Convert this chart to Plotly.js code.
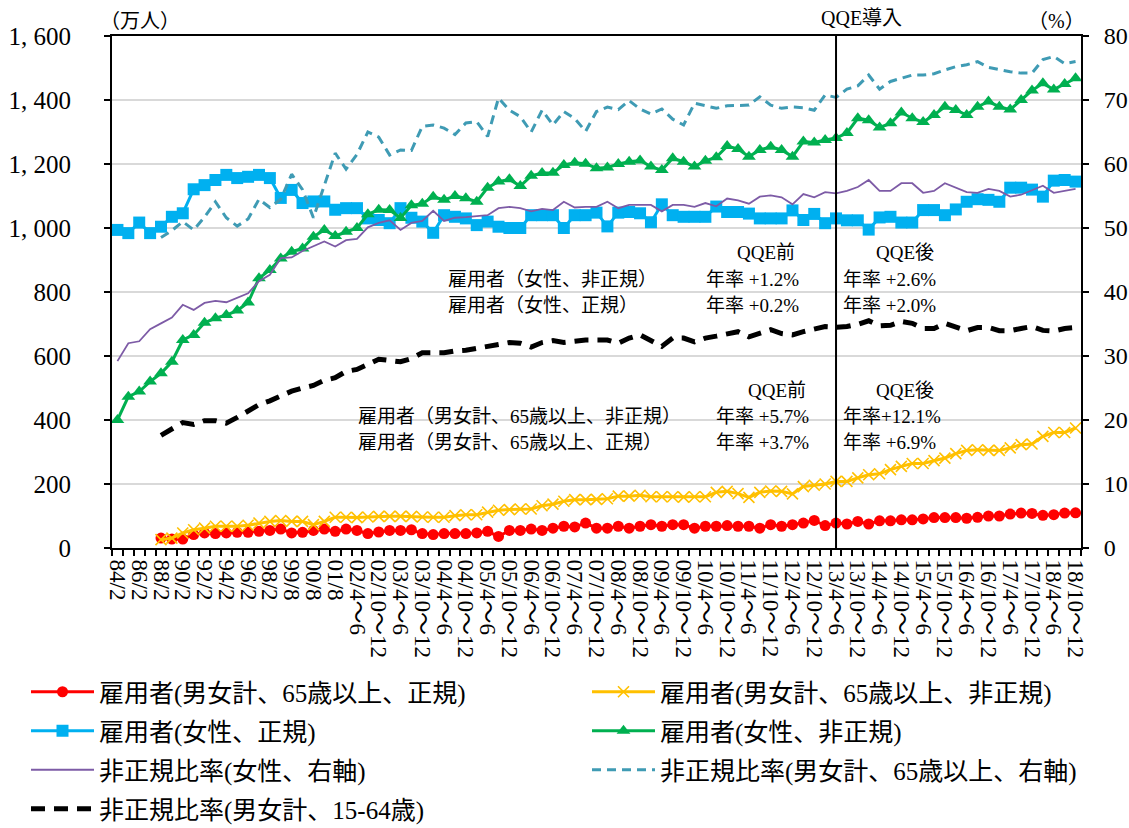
<!DOCTYPE html>
<html>
<head>
<meta charset="utf-8">
<script src="https://cdn.plot.ly/plotly-3.0.1.min.js"></script>
<style>html,body{margin:0;padding:0;background:#fff;}#chart{width:1129px;height:828px;}</style>
</head>
<body>
<div id="chart"></div>
<script>
const categories = [
  '84/2','85/2','86/2','87/2','88/2','89/2','90/2','91/2','92/2','93/2','94/2','95/2','96/2','97/2','98/2',
  '99/2','99/8','00/2','00/8','01/2','01/8',
  '02/1～3','02/4～6','02/7～9','02/10～12',
  '03/1～3','03/4～6','03/7～9','03/10～12',
  '04/1～3','04/4～6','04/7～9','04/10～12',
  '05/1～3','05/4～6','05/7～9','05/10～12',
  '06/1～3','06/4～6','06/7～9','06/10～12',
  '07/1～3','07/4～6','07/7～9','07/10～12',
  '08/1～3','08/4～6','08/7～9','08/10～12',
  '09/1～3','09/4～6','09/7～9','09/10～12',
  '10/1～3','10/4～6','10/7～9','10/10～12',
  '11/1～3','11/4～6','11/7～9','11/10～12',
  '12/1～3','12/4～6','12/7～9','12/10～12',
  '13/1～3','13/4～6','13/7～9','13/10～12',
  '14/1～3','14/4～6','14/7～9','14/10～12',
  '15/1～3','15/4～6','15/7～9','15/10～12',
  '16/1～3','16/4～6','16/7～9','16/10～12',
  '17/1～3','17/4～6','17/7～9','17/10～12',
  '18/1～3','18/4～6','18/7～9','18/10～12'
];

const tickLabels = [
  '84/2','86/2','88/2','90/2','92/2','94/2','96/2','98/2','99/8','00/8','01/8',
  '02/4～6','02/10～12','03/4～6','03/10～12','04/4～6','04/10～12','05/4～6','05/10～12',
  '06/4～6','06/10～12','07/4～6','07/10～12','08/4～6','08/10～12','09/4～6','09/10～12',
  '10/4～6','10/10～12','11/4～6','11/10～12','12/4～6','12/10～12','13/4～6','13/10～12',
  '14/4～6','14/10～12','15/4～6','15/10～12','16/4～6','16/10～12','17/4～6','17/10～12',
  '18/4～6','18/10～12'
];

const leftTickValues = [0,200,400,600,800,1000,1200,1400,1600];
const leftTickLabels = ['0','200','400','600','800','1, 000','1, 200','1, 400','1, 600'];
const qqeCategory = '13/4～6';

// 雇用者(男女計、65歳以上、正規) 万人
const elderRegular = [null,null,null,null,
  31,28,28,42,47,45,47,49,49,52,55,59,47,49,55,59,52,59,55,45,50,55,55,57,45,42,45,45,45,47,52,36,55,55,59,55,
  62,68,66,78,62,62,68,62,68,73,68,73,73,62,68,68,70,68,68,62,73,68,73,78,86,70,78,75,83,75,85,85,88,88,91,95,
  95,95,93,96,100,100,106,109,108,102,104,109,110];
// 雇用者(男女計、65歳以上、非正規) 万人
const elderNonRegular = [null,null,null,null,
  26,31,47,57,62,68,68,68,71,78,83,86,83,83,73,83,96,96,95,97,99,99,99,99,97,96,96,101,104,104,112,118,120,122,122,132,
  137,146,151,151,152,154,162,162,165,160,160,160,159,160,160,174,177,170,158,174,178,177,169,192,196,200,208,208,219,229,232,245,255,264,264,273,
  281,295,305,307,305,305,313,323,325,349,361,361,375];
// 雇用者(女性、正規) 万人
const femaleRegular = [
  994,984,1017,984,1004,1035,1046,1121,1134,1150,1166,1156,1160,1166,1156,1094,1119,1078,1083,1083,1057,1062,1062,1030,1025,1015,1062,1032,1020,985,
  1040,1035,1030,1009,1020,1004,1000,1000,1040,1040,1040,1000,1040,1040,1048,1005,1048,1050,1046,1018,1074,1040,1035,1035,1035,1067,1050,1050,1045,1030,
  1030,1030,1055,1025,1044,1015,1030,1024,1024,995,1033,1035,1017,1017,1056,1056,1040,1058,1082,1090,1088,1082,1126,1126,1120,1098,1148,1150,1145];
// 雇用者(女性、非正規) 万人
const femaleNonRegular = [
  400,473,489,520,546,582,650,666,704,718,728,742,767,843,869,905,926,936,973,994,975,988,1000,1043,1057,1056,1031,1071,1076,1098,
  1088,1100,1093,1082,1126,1145,1152,1131,1163,1172,1173,1197,1204,1201,1187,1189,1200,1207,1211,1192,1181,1218,1207,1192,1210,1221,1256,1247,1223,1244,
  1254,1244,1223,1270,1267,1275,1281,1297,1343,1337,1314,1327,1361,1343,1331,1353,1379,1369,1353,1379,1395,1379,1370,1400,1430,1452,1433,1450,1468];
// 非正規比率(女性、右軸) %
const femaleNonRegularRatio = [
  29.2,32.0,32.3,34.2,35.1,36.0,38.0,37.2,38.3,38.6,38.4,39.1,39.8,41.7,42.7,45.3,45.4,46.4,47.2,47.9,47.1,48.1,48.3,50.1,50.8,51.2,49.7,50.8,51.1,52.7,
  51.1,51.6,51.7,51.9,52.0,53.1,53.3,53.1,52.6,53.0,52.8,54.1,53.2,53.3,53.3,54.1,53.1,53.6,53.6,53.6,52.6,53.6,53.6,53.3,53.9,53.4,54.6,54.3,53.8,54.9,
  55.1,54.8,53.7,55.3,54.8,55.6,55.4,55.8,56.4,57.5,55.8,55.8,57.0,57.0,55.5,55.8,57.0,56.3,55.6,55.5,56.1,55.8,54.9,55.2,55.9,56.6,55.5,55.8,56.1];
// 非正規比率(男女計、65歳以上、右軸) %
const elderNonRegularRatio = [null,null,null,null,
  48.5,49.6,51.0,49.7,51.7,54.1,51.6,50.3,51.4,54.5,53.2,54.5,58.4,56.0,51.6,56.5,61.7,59.2,61.5,65.0,64.2,61.4,62.2,62.1,65.9,66.1,
  65.6,64.6,66.4,66.6,64.3,70.3,68.4,67.4,65.0,68.4,66.1,68.2,67.1,65.1,68.2,68.9,68.5,69.9,68.6,67.8,68.6,67.0,66.1,69.5,69.1,68.7,69.1,69.2,69.2,70.5,
  69.2,68.7,68.9,68.8,68.4,70.8,70.4,71.7,72.2,73.9,71.7,72.9,73.4,73.9,73.9,74.1,74.7,75.2,75.5,76.0,75.1,74.7,74.4,74.2,74.2,76.3,76.8,75.7,76.0];
// 非正規比率(男女計、15-64歳) %
const workingAgeNonRegularRatio = [null,null,null,null,
  17.6,18.7,19.6,19.3,19.9,19.9,19.5,20.4,21.3,22.4,23.0,23.8,24.5,25.0,25.4,26.2,26.6,27.6,27.9,28.7,29.5,29.3,29.1,29.6,30.5,30.5,
  30.5,30.8,30.9,31.2,31.6,31.8,32.1,32.0,31.4,32.1,32.4,32.1,32.3,32.5,32.5,32.5,32.0,32.8,33.3,32.5,31.5,32.8,32.8,32.2,32.8,33.1,33.4,33.8,33.0,33.6,
  34.1,33.5,33.3,33.8,34.2,34.6,34.5,34.6,34.95,35.5,34.7,34.8,35.4,35.1,34.3,34.3,35.1,34.6,33.95,34.45,34.45,33.95,33.95,34.3,34.6,34.0,33.9,34.3,34.45];

const seriesNames = [
  '雇用者(男女計、65歳以上、正規)',
  '雇用者(男女計、65歳以上、非正規)',
  '雇用者(女性、正規)',
  '雇用者(女性、非正規)',
  '非正規比率(女性、右軸)',
  '非正規比率(男女計、65歳以上、右軸)',
  '非正規比率(男女計、15-64歳)'
];

const FONT = '"Liberation Serif", "Noto Sans CJK JP", serif';

const traces = [
  {x: categories, y: elderRegular, name: seriesNames[0], legend: 'legend', legendgroup: 'g0', type: 'scatter', mode: 'lines+markers', yaxis: 'y',
   line: {color: '#FF0000', width: 3}, marker: {symbol: 'circle', size: 11, color: '#FF0000'}},
  {x: categories, y: elderNonRegular, name: seriesNames[1], legend: 'legend2', legendgroup: 'g1', type: 'scatter', mode: 'lines+markers', yaxis: 'y',
   line: {color: '#FFC000', width: 3}, marker: {symbol: 'x-thin', size: 11, color: '#FFC000', line: {color: '#FFC000', width: 1.6}}},
  {x: categories, y: femaleRegular, name: seriesNames[2], legend: 'legend', legendgroup: 'g2', type: 'scatter', mode: 'lines+markers', yaxis: 'y',
   line: {color: '#00B0F0', width: 3}, marker: {symbol: 'square', size: 12, color: '#00B0F0'}},
  {x: categories, y: femaleNonRegular, name: seriesNames[3], legend: 'legend2', legendgroup: 'g3', type: 'scatter', mode: 'lines+markers', yaxis: 'y',
   line: {color: '#00B050', width: 3}, marker: {symbol: 'triangle-up', size: 12, color: '#00B050'}},
  {x: categories, y: femaleNonRegularRatio, name: seriesNames[4], legend: 'legend', legendgroup: 'g4', type: 'scatter', mode: 'lines', yaxis: 'y2',
   line: {color: '#7D5BA6', width: 1.8}},
  {x: categories, y: elderNonRegularRatio, name: seriesNames[5], legend: 'legend2', legendgroup: 'g5', type: 'scatter', mode: 'lines', yaxis: 'y2',
   line: {color: '#3F9BB4', width: 3, dash: '9px,6px'}},
  {x: categories, y: workingAgeNonRegularRatio, name: seriesNames[6], legend: 'legend', legendgroup: 'g6', type: 'scatter', mode: 'lines', yaxis: 'y2',
   line: {color: '#000000', width: 5, dash: '14px,9px'}}
];

function px2x(px){ return (px - 112) / 969; }
function py2y(py){ return (548 - py) / 512; }

function note(text, px, py, anchor, size){
  return {text: text, xref: 'paper', yref: 'paper', x: px2x(px), y: py2y(py), xanchor: anchor || 'left', yanchor: 'middle',
          showarrow: false, font: {family: FONT, size: size || 19, color: '#000'}};
}

const annotations = [
  note('（万人）', 98, 21, 'left', 20),
  note('QQE導入', 861, 18, 'center', 20),
  note('（%）', 1056, 21, 'center', 20),
  note('QQE前', 766, 252, 'center'),
  note('QQE後', 905, 252, 'center'),
  note('雇用者（女性、非正規）', 446, 279),
  note('雇用者（女性、正規）', 446, 305),
  note('年率 +1.2%', 704, 279),
  note('年率 +0.2%', 704, 305),
  note('年率 +2.6%', 841, 279),
  note('年率 +2.0%', 841, 305),
  note('QQE前', 777, 390, 'center'),
  note('QQE後', 905, 390, 'center'),
  note('雇用者（男女計、65歳以上、非正規）', 356, 416),
  note('雇用者（男女計、65歳以上、正規）', 356, 442),
  note('年率 +5.7%', 714, 416),
  note('年率 +3.7%', 714, 442),
  note('年率+12.1%', 841, 416),
  note('年率 +6.9%', 841, 442)
];

const legendCommon = {orientation: 'v', xanchor: 'left', yanchor: 'top', itemwidth: 63,
  tracegroupgap: 3.5, traceorder: 'grouped', bgcolor: 'rgba(0,0,0,0)', borderwidth: 0,
  font: {family: FONT, size: 25, color: '#000'}};

const layout = {
  width: 1129, height: 828,
  margin: {l: 112, r: 48, t: 36, b: 280, pad: 0, autoexpand: false},
  paper_bgcolor: '#ffffff', plot_bgcolor: '#ffffff',
  font: {family: FONT, color: '#000', size: 18},
  showlegend: true,
  legend: Object.assign({}, legendCommon, {x: px2x(26), y: py2y(669)}),
  legend2: Object.assign({}, legendCommon, {x: px2x(587), y: py2y(669)}),
  xaxis: {type: 'category', categoryorder: 'array', categoryarray: categories, automargin: false,
          range: [-0.5, categories.length - 0.5], autorange: false,
          tickmode: 'array', tickvals: categories,
          ticktext: categories.map(c => tickLabels.includes(c) ? c : ''),
          tickangle: 90, ticks: 'outside', ticklen: 6, tickwidth: 1.5, tickcolor: '#000', tickson: 'boundaries',
          ticklabelstandoff: 5,
          showline: true, linecolor: '#000', linewidth: 2, mirror: true, showgrid: false, zeroline: false,
          tickfont: {family: FONT, size: 23, color: '#000'}},
  yaxis: {range: [0, 1600], autorange: false, tickmode: 'array', tickvals: leftTickValues, ticktext: leftTickLabels, automargin: false,
          ticks: 'outside', ticklen: 6, tickwidth: 1.5, tickcolor: '#000', ticklabelstandoff: 28,
          showline: true, linecolor: '#000', linewidth: 2, showgrid: true, gridcolor: '#D9D9D9', gridwidth: 1.5,
          zeroline: false, tickfont: {family: FONT, size: 25, color: '#000'}},
  yaxis2: {range: [0, 80], autorange: false, dtick: 10, tick0: 0, overlaying: 'y', side: 'right', automargin: false,
           ticks: 'outside', ticklen: 6, tickwidth: 1.5, tickcolor: '#000', ticklabelstandoff: 10,
           showline: true, linecolor: '#000', linewidth: 2, showgrid: false, zeroline: false,
           tickfont: {family: FONT, size: 24, color: '#000'}},
  shapes: [{type: 'line', xref: 'x', yref: 'paper', x0: qqeCategory, x1: qqeCategory, y0: 0, y1: 1,
            line: {color: '#000', width: 2}}],
  annotations: annotations
};

Plotly.newPlot('chart', traces, layout, {displayModeBar: false, responsive: false});
</script>
</body>
</html>
